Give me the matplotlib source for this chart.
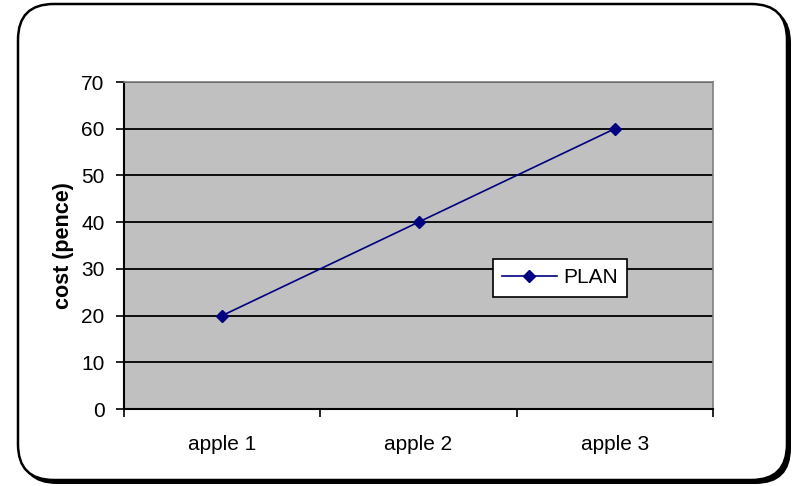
import matplotlib.pyplot as plt
from matplotlib.patches import FancyBboxPatch
from matplotlib.lines import Line2D

categories = ["apple 1", "apple 2", "apple 3"]
plan_cost = [20, 40, 60]
y_ticks = [0, 10, 20, 30, 40, 50, 60, 70]

plt.rcParams['font.family'] = ['Liberation Sans', 'DejaVu Sans']

W, H = 794, 486
fig = plt.figure(figsize=(W / 100, H / 100), dpi=100)

# chart frame: rounded box with a drop shadow on the right/bottom
def px_box(x0, y0, x1, y1, **kw):
    return FancyBboxPatch((x0 / W, 1 - y1 / H), (x1 - x0) / W, (y1 - y0) / H,
                          boxstyle="round,pad=0,rounding_size=0.045",
                          transform=fig.transFigure, mutation_aspect=W / H,
                          zorder=-5, **kw)

fig.patches.append(px_box(21, 7, 791, 484, facecolor='black', edgecolor='black', lw=0))
fig.patches.append(px_box(18, 4, 787, 480, facecolor='white', edgecolor='black', lw=1.8))

ax = fig.add_axes([124 / W, 1 - 409 / H, (713 - 124) / W, (409 - 82) / H])
ax.set_facecolor('#C0C0C0')

x = range(len(categories))
ax.plot(x, plan_cost, color='#000080', lw=1.2, marker='D', markersize=6,
        markerfacecolor='#000080', markeredgecolor='#000080', label='PLAN', zorder=3)

ax.set_xlim(-0.5, len(categories) - 0.5)
ax.set_ylim(0, 70)
ax.set_yticks(y_ticks)
ax.yaxis.grid(True, color='black', lw=1.3)
ax.set_axisbelow(True)

ax.set_xticks(list(x))
ax.set_xticklabels(categories, fontsize=15)
ax.tick_params(axis='x', length=0, pad=19)
ax.set_xticks([i - 0.5 for i in range(len(categories) + 1)], minor=True)
ax.tick_params(axis='x', which='minor', length=6, width=1.2, direction='out')
ax.tick_params(axis='y', labelsize=15, length=6, width=1.2, direction='out', pad=8)

for s in ('top', 'right'):
    ax.spines[s].set_color('#808080')
    ax.spines[s].set_linewidth(1.2)
for s in ('left', 'bottom'):
    ax.spines[s].set_color('black')
    ax.spines[s].set_linewidth(1.5)

ax.set_ylabel('cost (pence)', fontsize=15.5, fontweight='bold', labelpad=5)

handle = Line2D([], [], color='#000080', lw=1.2, marker='D', markersize=6.5)
leg = ax.legend([handle], ['PLAN'], loc='upper left',
                bbox_to_anchor=((493 - 124) / (713 - 124), (409 - 259) / (409 - 82)),
                fontsize=15, frameon=True, fancybox=False, handlelength=2.6,
                borderpad=0.45, handletextpad=0.3, borderaxespad=0)
leg.get_frame().set_edgecolor('black')
leg.get_frame().set_linewidth(1.2)
leg.get_frame().set_facecolor('white')
leg.get_frame().set_alpha(1)

fig.savefig('out.png', dpi=100)
